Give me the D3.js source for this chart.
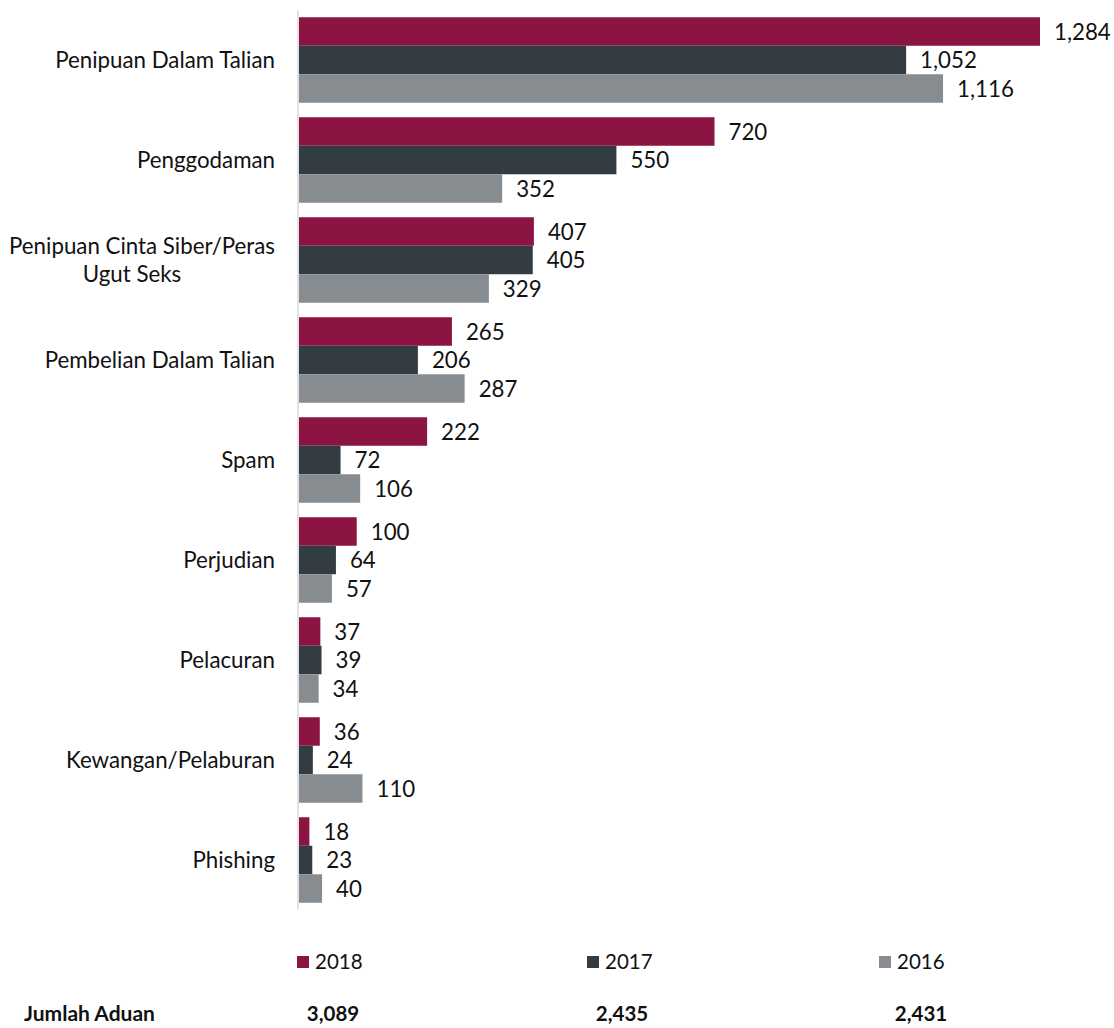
<!DOCTYPE html>
<html>
<head>
<meta charset="utf-8">
<script src="https://cdn.jsdelivr.net/npm/d3@7/dist/d3.min.js"></script>
<style>
  html, body { margin: 0; padding: 0; background: #fff; }
  svg { display: block; font-family: Lato, "Open Sans", sans-serif; }
</style>
</head>
<body>
<svg id="chart" width="1114" height="1028"></svg>
<script>
// Complaint categories, top to bottom
const categories = [
  "Penipuan Dalam Talian",
  "Penggodaman",
  "Penipuan Cinta Siber/Peras Ugut Seks",
  "Pembelian Dalam Talian",
  "Spam",
  "Perjudian",
  "Pelacuran",
  "Kewangan/Pelaburan",
  "Phishing"
];
// Wrapped label lines for each category
const categoryLines = [
  ["Penipuan Dalam Talian"],
  ["Penggodaman"],
  ["Penipuan Cinta Siber/Peras", "Ugut Seks"],
  ["Pembelian Dalam Talian"],
  ["Spam"],
  ["Perjudian"],
  ["Pelacuran"],
  ["Kewangan/Pelaburan"],
  ["Phishing"]
];
const years = ["2018", "2017", "2016"];
const values2018 = [1284, 720, 407, 265, 222, 100, 37, 36, 18];
const values2017 = [1052, 550, 405, 206, 72, 64, 39, 24, 23];
const values2016 = [1116, 352, 329, 287, 106, 57, 34, 110, 40];
const totals = ["3,089", "2,435", "2,431"];
const totalsLabel = "Jumlah Aduan";
const colors = ["#8b1443", "#333c42", "#878c91"];

const seriesValues = [values2018, values2017, values2016];
const fmt = d3.format(",");

const svg = d3.select("#chart");
const fontSize = 22.3;

const x = d3.scaleLinear().domain([0, 1284]).range([299, 1040]);
const y = d3.scaleBand().domain(categories).range([10, 910])
  .paddingInner(0.145).paddingOuter(0.0725);
const ySub = d3.scaleBand().domain(years).range([0, y.bandwidth()]);

// Bars and value labels
const groups = svg.append("g").selectAll("g")
  .data(categories)
  .join("g")
  .attr("transform", d => `translate(0,${y(d)})`);

years.forEach((yr, si) => {
  groups.append("rect")
    .attr("x", x(0))
    .attr("y", ySub(yr))
    .attr("width", (d, i) => x(seriesValues[si][i]) - x(0))
    .attr("height", ySub.bandwidth())
    .attr("fill", colors[si]);
  groups.append("text")
    .attr("x", (d, i) => x(seriesValues[si][i]) + 14)
    .attr("y", ySub(yr) + ySub.bandwidth() / 2)
    .attr("dy", "0.36em")
    .attr("font-size", fontSize)
    .attr("fill", "#111")
    .text((d, i) => fmt(seriesValues[si][i]));
});

// Vertical category axis line
svg.append("line")
  .attr("x1", 298).attr("x2", 298)
  .attr("y1", 10).attr("y2", 909)
  .attr("stroke", "#d9d9d9").attr("stroke-width", 1.5);

// Category labels
const labelX = 275;
const lineGap = 28;
categories.forEach((c, i) => {
  const lines = categoryLines[i];
  const cy = y(c) + y.bandwidth() / 2;
  const y0 = cy - (lines.length - 1) * lineGap / 2;
  let firstWidth = 0;
  lines.forEach((ln, li) => {
    const t = svg.append("text")
      .attr("y", y0 + li * lineGap)
      .attr("dy", "0.36em")
      .attr("font-size", fontSize)
      .attr("fill", "#111")
      .text(ln);
    if (li === 0) {
      t.attr("x", labelX).attr("text-anchor", "end");
      firstWidth = t.node().getComputedTextLength();
    } else {
      t.attr("x", labelX - firstWidth / 2 - 10).attr("text-anchor", "middle");
    }
  });
});

// Legend
const legendX = [297, 587, 879];
years.forEach((yr, i) => {
  svg.append("rect")
    .attr("x", legendX[i]).attr("y", 956)
    .attr("width", 12).attr("height", 12)
    .attr("fill", colors[i]);
  svg.append("text")
    .attr("x", legendX[i] + 18).attr("y", 962)
    .attr("dy", "0.36em")
    .attr("font-size", 20.5)
    .attr("fill", "#111")
    .text(yr);
});

// Totals row
const totalsY = 1021;
svg.append("text")
  .attr("x", 24).attr("y", totalsY)
  .attr("font-size", 21)
  .attr("font-weight", "bold")
  .attr("fill", "#111")
  .text(totalsLabel);
const totalsX = [333, 622, 921];
totals.forEach((t, i) => {
  svg.append("text")
    .attr("x", totalsX[i]).attr("y", totalsY)
    .attr("text-anchor", "middle")
    .attr("font-size", 20.5)
    .attr("font-weight", "bold")
    .attr("fill", "#111")
    .text(t);
});
</script>
</body>
</html>
